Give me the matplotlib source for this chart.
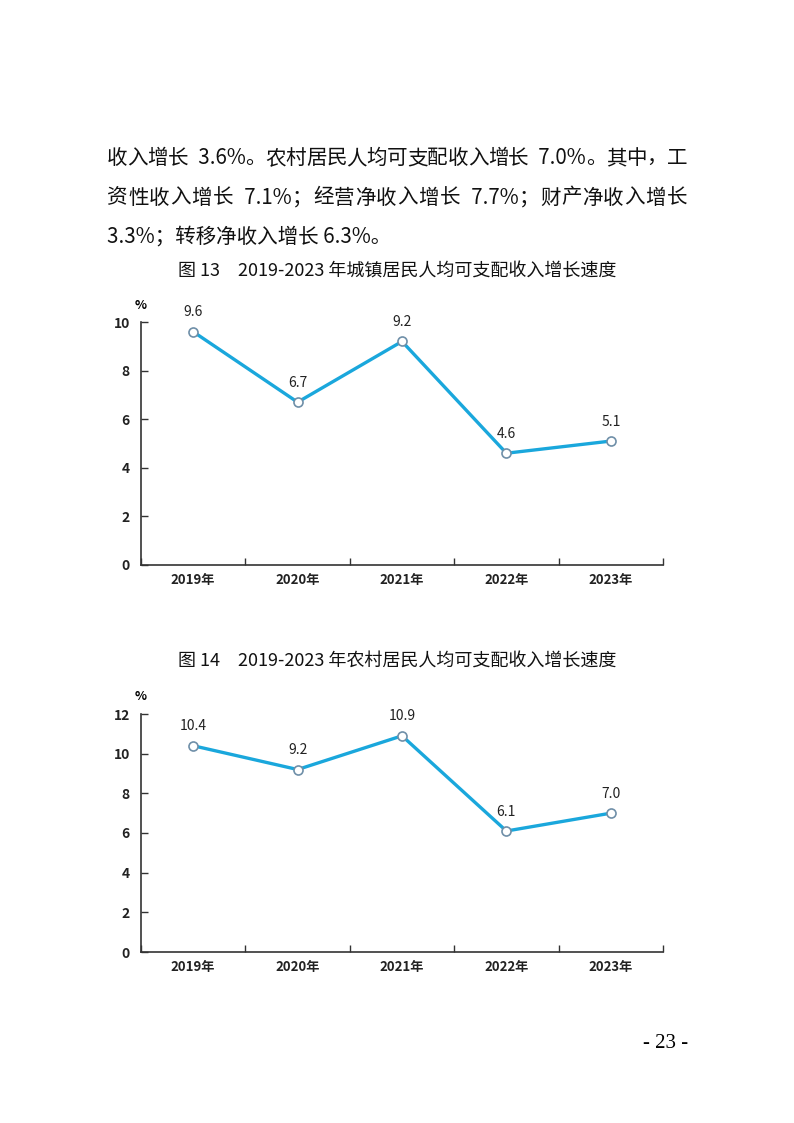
import re
import matplotlib
matplotlib.use('Agg')
import matplotlib.pyplot as plt

# 中文字体
plt.rcParams['font.family'] = ['Noto Sans CJK SC', 'DejaVu Sans']
plt.rcParams['axes.unicode_minus'] = False

# 数据
years = ['2019年', '2020年', '2021年', '2022年', '2023年']
urban_growth = [9.6, 6.7, 9.2, 4.6, 5.1]
rural_growth = [10.4, 9.2, 10.9, 6.1, 7.0]

body_lines = [
    '收入增长 3.6%。农村居民人均可支配收入增长 7.0%。其中，工',
    '资性收入增长 7.1%；经营净收入增长 7.7%；财产净收入增长',
    '3.3%；转移净收入增长 6.3%。',
]
title13 = '图 13　2019-2023 年城镇居民人均可支配收入增长速度'
title14 = '图 14　2019-2023 年农村居民人均可支配收入增长速度'

W, H = 794, 1123
fig = plt.figure(figsize=(W / 100, H / 100), dpi=100)

def fx(px):
    return px / W

def fy(py):
    return 1 - py / H

line_color = '#1aa7dc'
axis_color = '#333333'


def draw_chart(rect, values, ymax, ystep):
    ax = fig.add_axes(rect)
    x = list(range(len(values)))
    ax.plot(x, values, color=line_color, lw=2.4, marker='o', ms=6.5,
            mfc='white', mec='#6f8fa8', mew=1.2, zorder=3)
    for xi, v in zip(x, values):
        ax.annotate(f'{v:.1f}', (xi, v), xytext=(0, 14), textcoords='offset points',
                    ha='center', va='center', fontsize=10, color='#222222')
    ax.set_xlim(-0.5, len(values) - 0.5)
    ax.set_ylim(0, ymax)
    ax.set_yticks(range(0, ymax + 1, ystep))
    ax.set_yticklabels([str(t) for t in range(0, ymax + 1, ystep)],
                       fontsize=10, fontweight='bold', color='#222222')
    # 分类边界刻度
    ax.set_xticks([i - 0.5 for i in range(len(values) + 1)])
    ax.set_xticklabels([''] * (len(values) + 1))
    ax.set_xticks(x, minor=True)
    ax.set_xticklabels(years, minor=True, fontsize=9.5, fontweight='bold', color='#222222')
    ax.tick_params(axis='x', which='minor', length=0, pad=6)
    ax.tick_params(axis='x', which='major', direction='in', length=5, width=1, color=axis_color)
    ax.tick_params(axis='y', direction='in', length=5, width=1, color=axis_color, pad=8)
    for s in ['top', 'right']:
        ax.spines[s].set_visible(False)
    for s in ['left', 'bottom']:
        ax.spines[s].set_color(axis_color)
        ax.spines[s].set_linewidth(1.2)
    ax.spines['left'].set_bounds(0, ymax)
    return ax


# 正文（两端对齐：中文逐字、数字成组排布）
renderer = fig.canvas.get_renderer()
left_px, right_px = 107, 687
body_size = 14.8
for i, line in enumerate(body_lines):
    y = fy(158 + i * 39.5)
    if i < 2:
        tokens = re.findall(r'[\x20-\x7e]+|[^\x20-\x7e]', line)
        widths = []
        for tok in tokens:
            t = fig.text(0, 0, tok.replace(' ', '\u2002'), fontsize=body_size)
            widths.append(t.get_window_extent(renderer).width)
            t.remove()
        gap = (right_px - left_px - sum(widths)) / (len(tokens) - 1)
        xpos = left_px
        for tok, w in zip(tokens, widths):
            fig.text(fx(xpos), y, tok.replace(' ', '\u2002'), fontsize=body_size, ha='left',
                     va='center', color='#111111')
            xpos += w + gap
    else:
        fig.text(fx(left_px), y, line, fontsize=body_size, ha='left', va='center',
                 color='#111111')

fig.text(fx(397), fy(272), title13, fontsize=13, ha='center', va='center', color='#111111')
fig.text(fx(397), fy(662), title14, fontsize=13, ha='center', va='center', color='#111111')

ax1 = draw_chart([fx(141), fy(565), fx(663) - fx(141), fy(322) - fy(565)], urban_growth, 10, 2)
fig.text(fx(141), fy(305), '%', fontsize=9, fontweight='bold', ha='center', va='center')

ax2 = draw_chart([fx(141), fy(952), fx(663) - fx(141), fy(714) - fy(952)], rural_growth, 12, 2)
fig.text(fx(141), fy(697), '%', fontsize=9, fontweight='bold', ha='center', va='center')

# 页码
fig.text(fx(688), fy(1043), '- 23 -', fontsize=15, ha='right', va='center',
         family=['Liberation Serif', 'DejaVu Serif'])

fig.savefig('out.png', dpi=100)
